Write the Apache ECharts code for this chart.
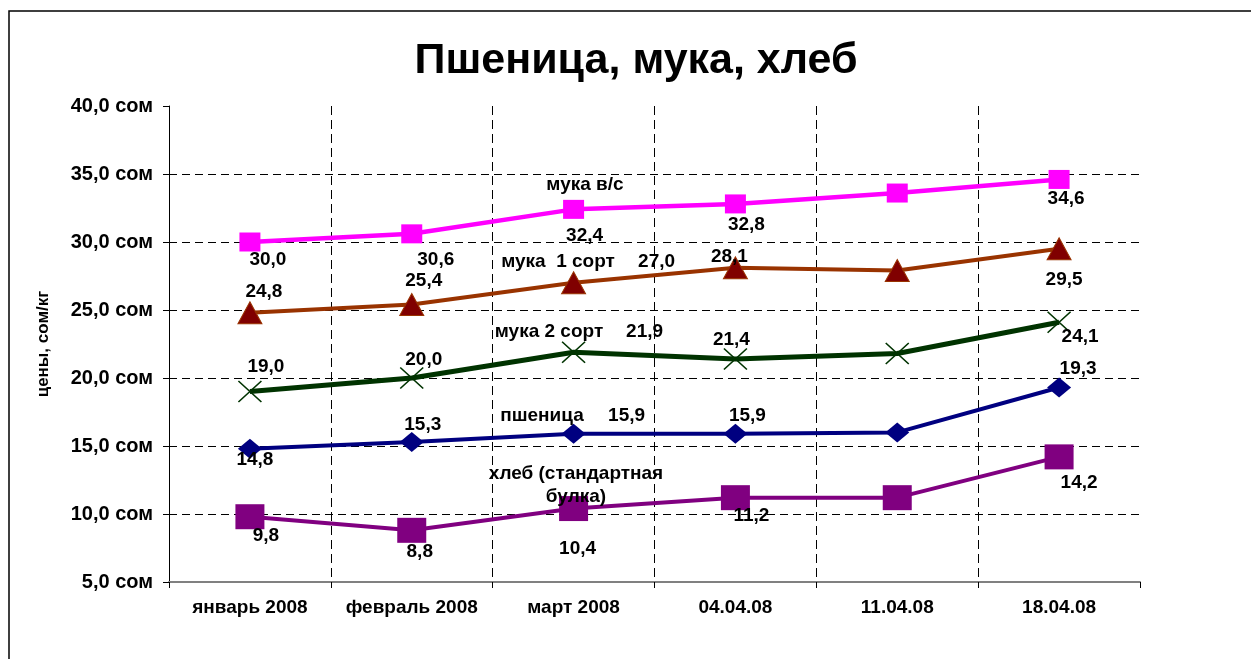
<!DOCTYPE html>
<html>
<head>
<meta charset="utf-8">
<title>Пшеница, мука, хлеб</title>
<script src="https://cdn.jsdelivr.net/npm/echarts@6/dist/echarts.min.js"></script>
<style>
    html, body { margin: 0; padding: 0; background: #fff; }
    #main { width: 1251px; height: 659px; }
</style>
</head>
<body>
<div id="main"></div>
<script>
// данные графика
var categories = ['январь 2008', 'февраль 2008', 'март 2008', '04.04.08', '11.04.08', '18.04.08'];
var mukaVs = [30.0, 30.6, 32.4, 32.8, 33.6, 34.6];
var muka1 = [24.8, 25.4, 27.0, 28.1, 27.9, 29.5];
var muka2 = [19.0, 20.0, 21.9, 21.4, 21.8, 24.1];
var pshenica = [14.8, 15.3, 15.9, 15.9, 16.0, 19.3];
var hleb = [9.8, 8.8, 10.4, 11.2, 11.2, 14.2];
var yTicks = {min: 5, max: 40, step: 5};

var FONT = '"Liberation Sans", Arial, sans-serif';

// смещения подписей значений (null - без подписи)
var offVs = [[18, 18], [24, 26], [11, 26], [11, 21], null, [7, 19]];
var off1 = [[14, -21], [12, -24], [83, -21], [-6, -11], null, [5, 31]];
var off2 = [[16, -25], [12, -18], [71, -20], [-4, -19], null, [21, 15]];
var offP = [[5, 11], [11, -17], [53, -18], [12, -18], null, [19, -19]];
var offH = [[16, 19], [8, 21], [4, 40], [16, 18], null, [20, 26]];

function fmt(v) {
    return v.toFixed(1).replace('.', ',');
}

function withLabels(values, offs) {
    return values.map(function (v, i) {
        return {
            value: v,
            label: offs[i] ? {show: true, offset: offs[i]} : {show: false}
        };
    });
}

function makeSeries(name, values, offs, color, width, symbol, size, item) {
    return {
        name: name,
        type: 'line',
        data: withLabels(values, offs),
        symbol: symbol,
        symbolSize: size,
        showAllSymbol: true,
        lineStyle: {color: color, width: width},
        itemStyle: item,
        label: {
            position: 'inside',
            formatter: function (p) { return fmt(p.value); },
            color: '#000',
            fontFamily: FONT,
            fontWeight: 'bold',
            fontSize: 19
        },
        emphasis: {disabled: true}
    };
}

function nameText(text, x, y) {
    return {
        type: 'text',
        x: x,
        y: y,
        z: 10,
        style: {
            text: text,
            align: 'center',
            verticalAlign: 'middle',
            font: 'bold 19px ' + FONT,
            fill: '#000',
            lineHeight: 23
        }
    };
}

var option = {
    animation: false,
    backgroundColor: '#fff',
    grid: {left: 169, right: 111, top: 106, bottom: 77, containLabel: false},
    graphic: [
        {
            type: 'rect',
            shape: {x: 9, y: 11, width: 1400, height: 800},
            style: {fill: 'none', stroke: '#000', lineWidth: 1.5},
            z: -1
        },
        {
            type: 'text',
            x: 636,
            y: 61,
            style: {
                text: 'Пшеница, мука, хлеб',
                align: 'center',
                verticalAlign: 'middle',
                font: 'bold 43px ' + FONT,
                fill: '#000'
            }
        },
        nameText('мука в/с', 585, 185),
        nameText('мука  1 сорт', 558, 262),
        nameText('мука 2 сорт', 549, 332),
        nameText('пшеница', 542, 416),
        nameText('хлеб (стандартная\nбулка)', 576, 485)
    ],
    xAxis: {
        type: 'category',
        data: categories,
        boundaryGap: true,
        axisLine: {lineStyle: {color: '#808080', width: 2}},
        axisTick: {show: true, length: 6, interval: 0, lineStyle: {color: '#000'}},
        axisLabel: {
            interval: 0,
            margin: 16,
            color: '#000',
            fontFamily: FONT,
            fontWeight: 'bold',
            fontSize: 19
        },
        splitLine: {
            show: true,
            interval: 0,
            showMinLine: false,
            showMaxLine: false,
            lineStyle: {color: '#000', width: 1, type: [9, 5]}
        }
    },
    yAxis: {
        type: 'value',
        min: yTicks.min,
        max: yTicks.max,
        interval: yTicks.step,
        name: 'цены, сом/кг',
        nameLocation: 'middle',
        nameRotate: 90,
        nameGap: 117,
        nameTextStyle: {color: '#000', fontFamily: FONT, fontWeight: 'bold', fontSize: 17},
        axisLine: {show: true, lineStyle: {color: '#000', width: 1}},
        axisTick: {show: true, length: 6, lineStyle: {color: '#000'}},
        axisLabel: {
            margin: 16,
            color: '#000',
            fontFamily: FONT,
            fontWeight: 'bold',
            fontSize: 20,
            formatter: function (v) { return fmt(v) + ' сом'; }
        },
        splitLine: {
            show: true,
            showMinLine: false,
            showMaxLine: false,
            lineStyle: {color: '#000', width: 1, type: [8, 5]}
        }
    },
    series: [
        makeSeries('мука в/с', mukaVs, offVs, '#FF00FF', 4.5, 'rect', [21, 19],
            {color: '#FF00FF'}),
        makeSeries('мука 1 сорт', muka1, off1, '#993300', 4, 'triangle', [24, 22],
            {color: '#800000', borderColor: '#993300', borderWidth: 1}),
        makeSeries('мука 2 сорт', muka2, off2, '#003300', 5,
            'path://M0,0L10,10M10,0L0,10', [23, 21],
            {color: 'rgba(0,0,0,0)', borderColor: '#003300', borderWidth: 1.5}),
        makeSeries('пшеница', pshenica, offP, '#000080', 4, 'diamond', [24, 20],
            {color: '#000080'}),
        makeSeries('хлеб (стандартная булка)', hleb, offH, '#800080', 4, 'rect', [29, 25],
            {color: '#800080'})
    ]
};

var myChart = echarts.init(document.getElementById('main'));
myChart.setOption(option);
</script>
</body>
</html>
